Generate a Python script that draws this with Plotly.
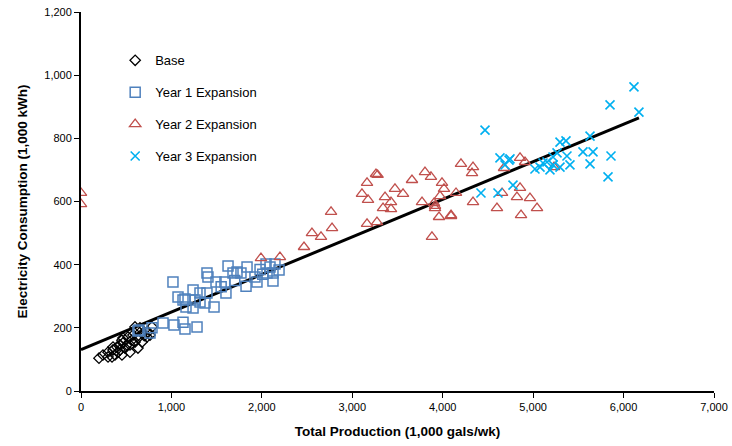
import plotly.graph_objects as go

# ---- data ----
base_x = [199, 243, 299, 354, 398, 431, 464, 464, 520, 575, 619, 630, 542, 453, 343, 686, 741, 785,
          730, 630, 542, 409, 597, 487, 675, 299, 376, 431, 509, 354, 597, 652, 763, 453, 700, 560]
base_y = [104, 114, 123, 130, 139, 146, 152, 168, 171, 177, 193, 136, 123, 114, 108, 184, 187, 203,
          171, 168, 146, 123, 155, 136, 155, 108, 114, 130, 146, 139, 203, 200, 177, 161, 175, 160]

y1_x = [1017, 1626, 1725, 1836, 1393, 1404, 1493, 1592, 1681, 1769, 1924, 2046, 2090, 2145, 2057,
        2123, 2123, 1946, 1825, 1603, 1239, 1316, 1393, 1150, 1261, 1316, 1371, 1161, 1239, 1471,
        907, 1028, 1128, 1150, 1283, 785, 641, 763, 1128, 630, 2190, 1073, 1980, 2010, 1700, 1550]
y1_y = [345, 396, 377, 393, 374, 361, 345, 345, 374, 374, 361, 402, 393, 402, 374,
        374, 348, 345, 332, 310, 320, 310, 310, 291, 288, 282, 279, 266, 263, 266,
        215, 209, 218, 196, 203, 200, 193, 184, 288, 190, 383, 298, 385, 370, 350, 330]

y2_x = [0, 0, 1990, 2200, 2466, 2554, 2654, 2765, 2776, 3107, 3163, 3174, 3262, 3280, 3273, 3340,
        3362, 3428, 3428, 3472, 3561, 3660, 3771, 3804, 3870, 3881, 3904, 3915, 3915, 3959, 3970,
        3992, 4014, 4092, 4092, 4147, 4202, 4324, 4335, 4335, 4600, 4656, 4678, 4821, 4855, 4855,
        4866, 4910, 4965, 5043, 5231, 3163]
y2_y = [627, 592, 421, 424, 456, 500, 488, 567, 516, 624, 659, 605, 687, 684, 535, 579,
        614, 598, 576, 640, 624, 668, 598, 693, 678, 488, 595, 579, 586, 551, 617,
        659, 640, 554, 557, 627, 719, 690, 709, 598, 579, 627, 706, 614, 738, 643,
        557, 725, 611, 579, 709, 529]

y3_x = [6115, 5850, 6170, 4468, 5629, 5297, 5363, 5551, 5662, 5861, 5629, 5828, 4633, 4744, 4689,
        4777, 4423, 4611, 5020, 5076, 5153, 5220, 5264, 5374, 5407, 5186, 5109, 5297, 5220, 4733]
y3_y = [963, 906, 883, 826, 807, 788, 792, 757, 757, 744, 719, 678, 738, 735, 716,
        652, 627, 627, 703, 709, 725, 741, 754, 744, 716, 700, 722, 709, 716, 731]

trend_x = [0, 6170]
trend_y = [131, 865]

x_ticks = [0, 1000, 2000, 3000, 4000, 5000, 6000, 7000]
y_ticks = [0, 200, 400, 600, 800, 1000, 1200]

REG = "Liberation Sans, Arial, sans-serif"

fig = go.Figure()
fig.add_trace(go.Scatter(x=trend_x, y=trend_y, mode="lines", line=dict(color="black", width=3),
                         showlegend=False, hoverinfo="skip"))
fig.add_trace(go.Scatter(x=base_x, y=base_y, mode="markers", name="Base", legendgroup="a",
                         marker=dict(symbol="diamond-open", size=8, color="black", line=dict(width=1.3))))
fig.add_trace(go.Scatter(x=y1_x, y=y1_y, mode="markers", name="Year 1 Expansion", legendgroup="b",
                         marker=dict(symbol="square-open", size=10, color="#4F81BD", line=dict(width=1.5))))
fig.add_trace(go.Scatter(x=y2_x, y=y2_y, mode="markers", name="Year 2 Expansion", legendgroup="c",
                         marker=dict(symbol="triangle-up-open", size=10, color="#C0504D", line=dict(width=1.3))))
fig.add_trace(go.Scatter(x=y3_x, y=y3_y, mode="markers", name="Year 3 Expansion", legendgroup="d",
                         marker=dict(symbol="x-thin", size=9, color="#00B0F0", line=dict(width=1.6, color="#00B0F0"))))

fig.update_layout(
    width=732, height=446,
    margin=dict(l=81, r=18, t=12, b=55),
    paper_bgcolor="white", plot_bgcolor="white",
    font=dict(family=REG, size=11, color="black"),
    legend=dict(x=0.054, y=0.912, xanchor="left", yanchor="top", traceorder="grouped",
                tracegroupgap=12, font=dict(family=REG, size=13), bgcolor="rgba(0,0,0,0)", itemwidth=30),
    xaxis=dict(range=[0, 7000], tickvals=x_ticks, tickformat=",", showgrid=False, zeroline=False,
               showline=True, linecolor="black", linewidth=2, ticks="outside", ticklen=5,
               tickcolor="black", tickwidth=1, automargin=False,
               title=dict(text="<b>Total Production (1,000 gals/wk)</b>", font=dict(size=13.5), standoff=14)),
    yaxis=dict(range=[0, 1200], tickvals=y_ticks, tickformat=",", showgrid=False, zeroline=False,
               showline=True, linecolor="black", linewidth=2, ticks="outside", ticklen=5,
               tickcolor="black", tickwidth=1, automargin=False,
               title=dict(text="<b>Electricity Consumption (1,000 kWh)</b>", font=dict(size=13.5), standoff=14)),
)

fig.write_html("out.html")
